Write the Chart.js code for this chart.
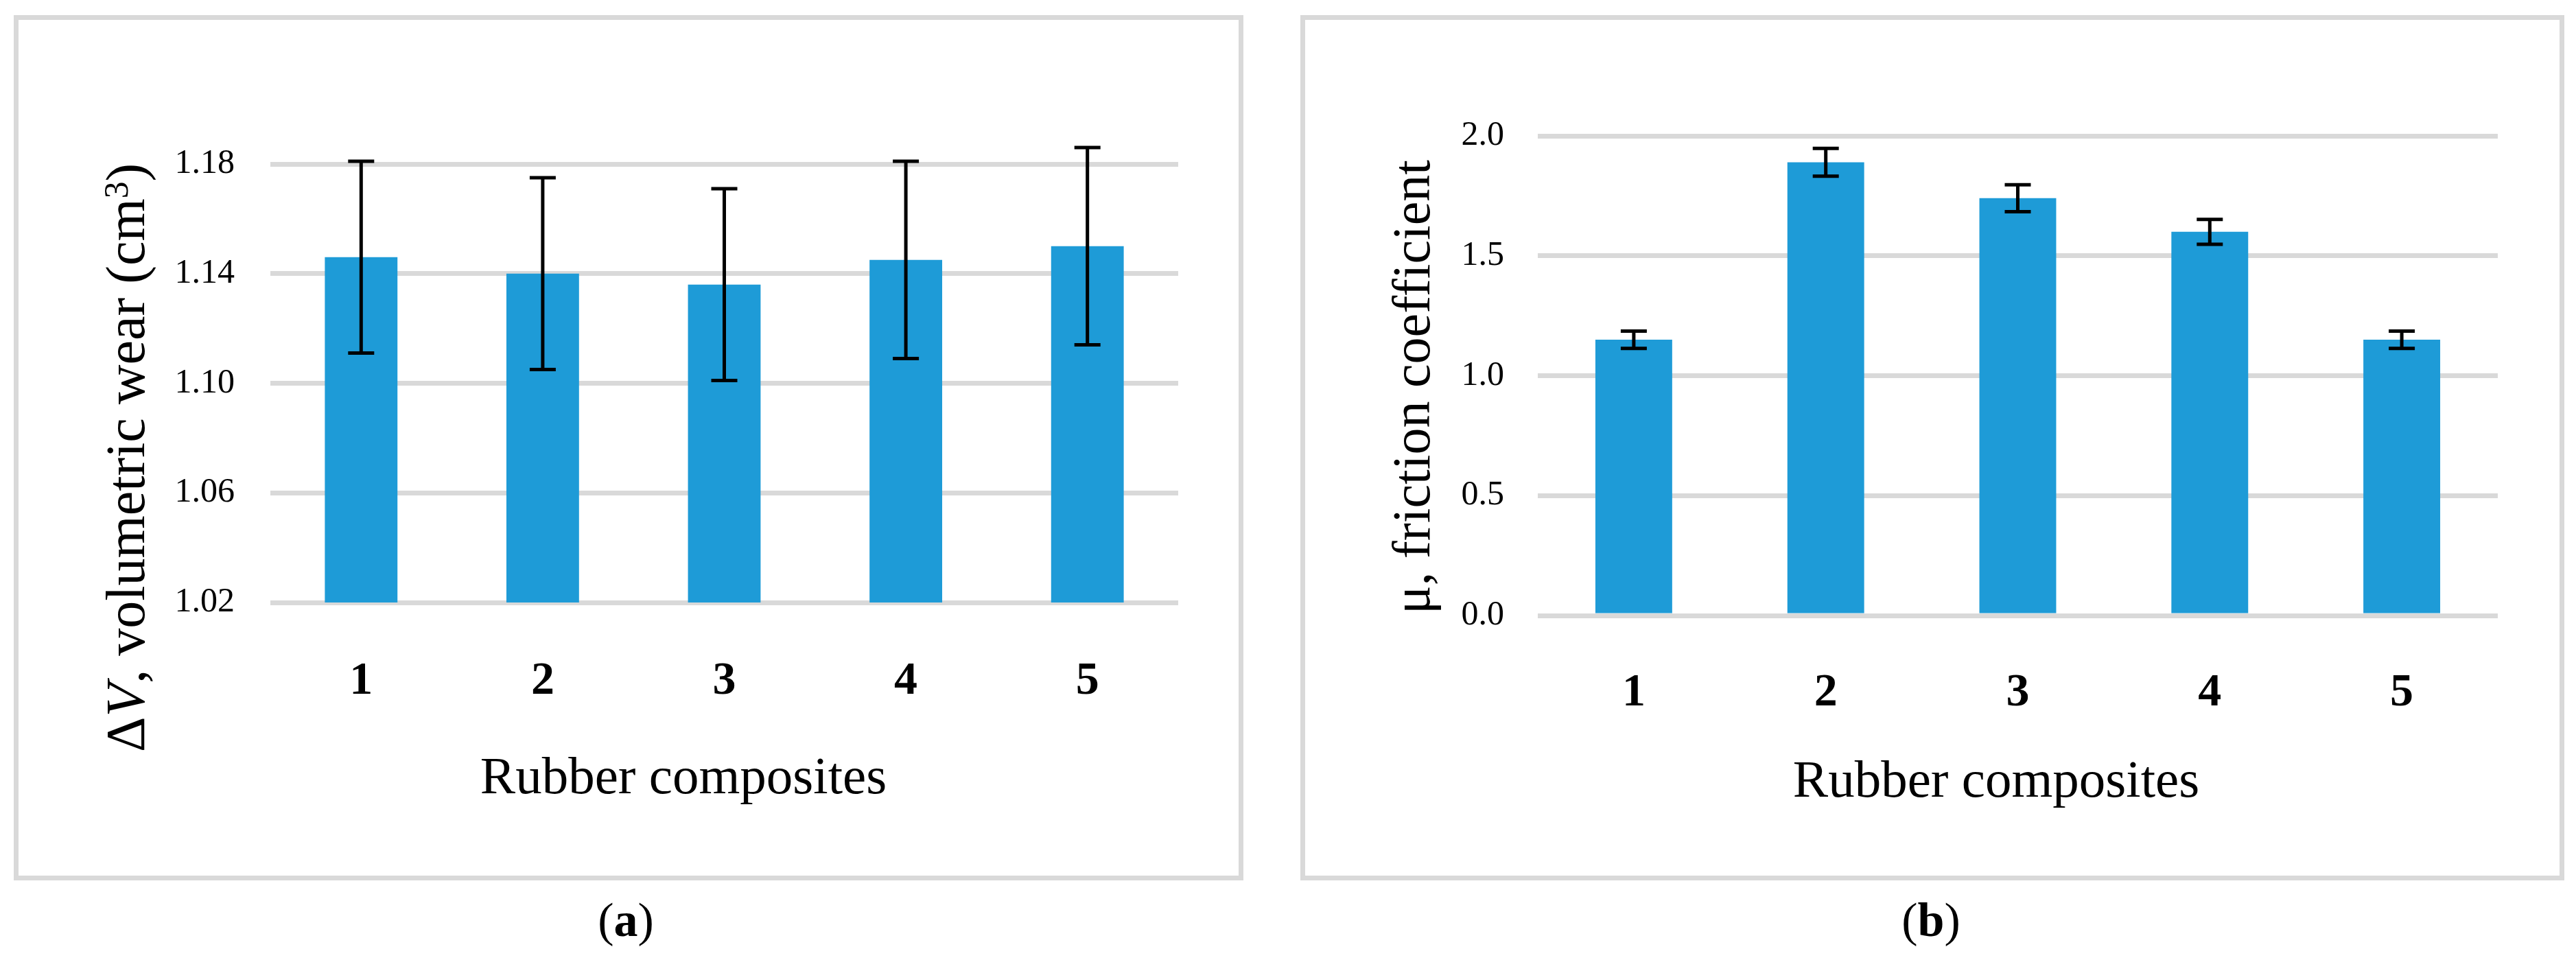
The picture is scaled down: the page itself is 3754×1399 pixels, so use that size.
<!DOCTYPE html>
<html>
<head>
<meta charset="utf-8">
<script src="https://cdn.jsdelivr.net/npm/chart.js@4.4.1/dist/chart.umd.min.js"></script>
<style>
  html, body { margin: 0; padding: 0; background: #fff; }
  body { position: relative; width: 3754px; height: 1399px; overflow: hidden;
         font-family: 'Liberation Serif', 'Times New Roman', serif; color: #000; }
  .box  { position: absolute; box-sizing: border-box; border: 7px solid #d9d9d9; }
  .plot { position: absolute; }
  .txt  { position: absolute; line-height: 1; white-space: nowrap; text-align: center; }
  .ytitle { transform: rotate(-90deg); }
  sup { font-size: 0.62em; vertical-align: 0; position: relative; top: -0.48em; }
</style>
</head>
<body>

<div class="box" style="left:20px; top:22px; width:1792px; height:1261px;"></div>
<div class="plot" style="left:27px; top:29px; width:1778px; height:1247px;"><canvas id="wear-chart"></canvas></div>
<div class="txt ytitle" style="left:-417px; top:627px; width:1200px; font-size:80px;">&Delta;<i>V</i>, volumetric wear (cm<sup>3</sup>)</div>
<div class="txt" style="left:596px; top:1092px; width:800px; font-size:77px;">Rubber composites</div>
<div class="txt" style="left:762px; top:1306px; width:300px; font-size:70px;">(<b>a</b>)</div>

<div class="box" style="left:1895px; top:22px; width:1842px; height:1261px;"></div>
<div class="plot" style="left:1902px; top:29px; width:1828px; height:1247px;"><canvas id="friction-chart"></canvas></div>
<div class="txt ytitle" style="left:1557px; top:525px; width:1000px; font-size:78px;">&mu;, friction coefficient</div>
<div class="txt" style="left:2509px; top:1097px; width:800px; font-size:77px;">Rubber composites</div>
<div class="txt" style="left:2664px; top:1306px; width:300px; font-size:70px;">(<b>b</b>)</div>

<script>
// ── Data ──────────────────────────────────────────────────────
const categories   = ['1', '2', '3', '4', '5'];

const wear         = [1.146, 1.140, 1.136, 1.145, 1.150];
const wearErr      = [0.035, 0.035, 0.035, 0.036, 0.036];
const wearTicks    = [1.02, 1.06, 1.10, 1.14, 1.18];

const friction     = [1.15, 1.89, 1.74, 1.60, 1.15];
const frictionErr  = [0.036, 0.058, 0.056, 0.052, 0.036];
const frictionTicks = [0.0, 0.5, 1.0, 1.5, 2.0];

// ── Defaults ──────────────────────────────────────────────────
const SERIF = "'Liberation Serif', 'Times New Roman', serif";
Chart.defaults.color       = '#000';
Chart.defaults.font.family = SERIF;

const BAR_BLUE  = '#1e9bd7';
const GRID_GRAY = '#d9d9d9';

// Error bars drawn from dataset.errors through the y scale
const errorBars = {
  id: 'errorBars',
  afterDatasetsDraw(chart) {
    const { ctx } = chart;
    const yScale = chart.scales.y;
    const ds     = chart.data.datasets[0];
    const meta   = chart.getDatasetMeta(0);
    const cap    = 19;

    ctx.save();
    ctx.strokeStyle = '#000';
    ctx.lineWidth   = 5;
    meta.data.forEach((bar, i) => {
      const top = yScale.getPixelForValue(ds.data[i] + ds.errors[i]);
      const bot = yScale.getPixelForValue(ds.data[i] - ds.errors[i]);
      ctx.beginPath();
      ctx.moveTo(bar.x, top);        ctx.lineTo(bar.x, bot);
      ctx.moveTo(bar.x - cap, top);  ctx.lineTo(bar.x + cap, top);
      ctx.moveTo(bar.x - cap, bot);  ctx.lineTo(bar.x + cap, bot);
      ctx.stroke();
    });
    ctx.restore();
  }
};

function makeChart(id, values, errors, ticks, digits, box) {
  return new Chart(document.getElementById(id).getContext('2d'), {
    type: 'bar',
    data: {
      labels: categories,
      datasets: [{
        data:               values,
        errors:             errors,
        backgroundColor:    BAR_BLUE,
        borderWidth:        0,
        barPercentage:      0.4,
        categoryPercentage: 1.0
      }]
    },
    options: {
      responsive:          true,
      maintainAspectRatio: false,
      animation:           false,
      layout: { padding: { top: box.top, right: box.right, left: 0, bottom: 0 } },
      plugins: {
        legend:  { display: false },
        tooltip: { enabled: false }
      },
      scales: {
        x: {
          grid:   { display: false },
          border: { display: false },
          ticks:  {
            font: { family: SERIF, size: 68, weight: 'bold' },
            padding: box.xPad,
            maxRotation: 0
          },
          afterFit: s => { s.height = box.xHeight; }
        },
        y: {
          min: ticks[0],
          max: ticks[ticks.length - 1],
          grid:   { color: GRID_GRAY, lineWidth: 7, drawTicks: false },
          border: { display: false },
          ticks:  {
            font:     { family: SERIF, size: 50 },
            padding:  box.yPad,
            callback: v => Number(v).toFixed(digits)
          },
          afterBuildTicks: s => { s.ticks = ticks.map(v => ({ value: v })); },
          afterFit: s => { s.width = box.yWidth; }
        }
      }
    },
    plugins: [errorBars]
  });
}

// ── (a) Volumetric wear ───────────────────────────────────────
makeChart('wear-chart', wear, wearErr, wearTicks, 2,
  { top: 210, right: 88, yWidth: 367, yPad: 52, xHeight: 398, xPad: 67 });

// ── (b) Friction coefficient ──────────────────────────────────
makeChart('friction-chart', friction, frictionErr, frictionTicks, 1,
  { top: 169, right: 90, yWidth: 339, yPad: 49, xHeight: 379, xPad: 65 });
</script>
</body>
</html>
